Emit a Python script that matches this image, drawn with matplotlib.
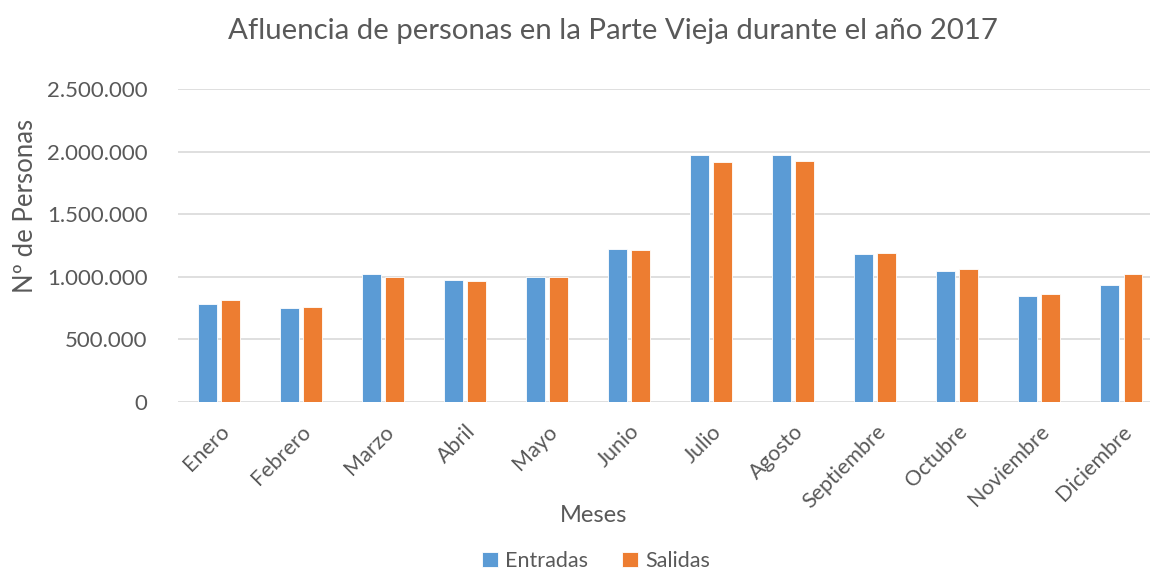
import numpy as np
import matplotlib.pyplot as plt
from matplotlib.ticker import FuncFormatter

meses = ["Enero", "Febrero", "Marzo", "Abril", "Mayo", "Junio", "Julio",
         "Agosto", "Septiembre", "Octubre", "Noviembre", "Diciembre"]
entradas = [780000, 748000, 1020000, 972000, 998000, 1222000, 1973000,
            1970000, 1182000, 1049000, 844000, 934000]
salidas = [812000, 756000, 1000000, 964000, 1000000, 1211000, 1917000,
           1925000, 1190000, 1062000, 865000, 1025000]

plt.rcParams['font.family'] = ['Lato', 'DejaVu Sans']
gris = '#595959'

fig = plt.figure(figsize=(11.5, 5.7), dpi=100)
ax = fig.add_axes([178 / 1150, 1 - 402 / 570, 972 / 1150, 313 / 570])

x = np.arange(len(meses))
w = 0.23
ax.bar(x - 0.142, entradas, w, color='#5B9BD5', edgecolor='white', linewidth=0.6, label='Entradas')
ax.bar(x + 0.142, salidas, w, color='#ED7D31', edgecolor='white', linewidth=0.6, label='Salidas')

ax.set_xlim(-0.5, 11.35)
ax.set_ylim(0, 2500000)
ax.set_yticks(np.arange(0, 2500001, 500000))
ax.yaxis.set_major_formatter(FuncFormatter(lambda v, p: f"{int(v):,}".replace(",", ".")))
ax.grid(axis='y', color='#d9d9d9', linewidth=1.2)
ax.set_axisbelow(True)
for s in ax.spines.values():
    s.set_visible(False)
ax.tick_params(axis='x', length=0, labelsize=15.5, colors=gris, pad=14)
ax.tick_params(axis='y', length=0, labelsize=16, colors=gris, pad=22)
ax.set_xticks(x)
ax.set_xticklabels(meses, rotation=45, ha='right', rotation_mode='anchor')

ax.set_ylabel("Nº de Personas", fontsize=18.5, color=gris)
ax.yaxis.set_label_coords(-140 / 972, 0.626)
fig.text(594 / 1150, 1 - 515 / 570, "Meses", fontsize=17, color=gris, ha='center', va='center')
fig.text(613 / 1150, 1 - 31 / 570, "Afluencia de personas en la Parte Vieja durante el año 2017",
         fontsize=21.2, color=gris, ha='center', va='center')

leg = fig.legend(loc='center', bbox_to_anchor=(596 / 1150, 1 - 561 / 570), ncol=2, frameon=False,
                 fontsize=15.5, handlelength=0.75, handleheight=0.75, columnspacing=1.6,
                 handletextpad=0.3, borderpad=0)
for t in leg.get_texts():
    t.set_color(gris)

fig.savefig("out.png", dpi=100)
